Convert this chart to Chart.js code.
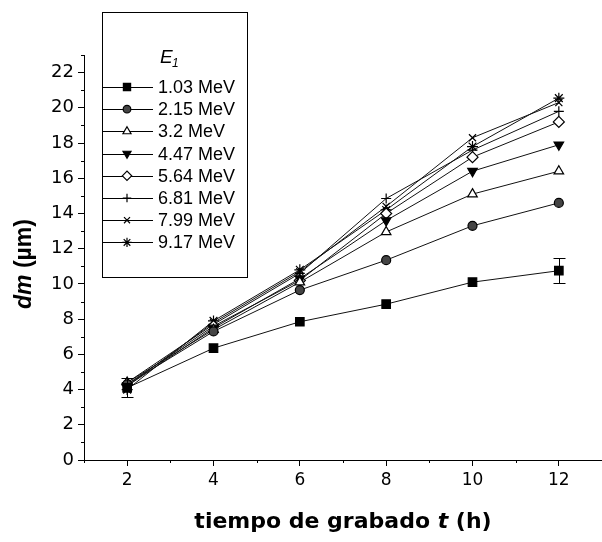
<!DOCTYPE html>
<html>
<head>
<meta charset="utf-8">
<script src="https://cdn.jsdelivr.net/npm/chart.js@4.4.1/dist/chart.umd.min.js"></script>
<style>
  html, body { margin: 0; padding: 0; background: #fff; }
  #wrap { width: 602px; height: 542px; }
</style>
</head>
<body>
<div id="wrap"><canvas id="c" width="602" height="542"></canvas></div>
<script>
// Etching time (h)
const hours = [2, 4, 6, 8, 10, 12];

// Incident energy of each series
const energies = ['1.03 MeV', '2.15 MeV', '3.2 MeV', '4.47 MeV', '5.64 MeV', '6.81 MeV', '7.99 MeV', '9.17 MeV'];

// Track diameter dm (µm) per energy
const dm103 = [4.1, 6.35, 7.85, 8.85, 10.1, 10.75];
const dm215 = [4.3, 7.3, 9.65, 11.35, 13.3, 14.6];
const dm320 = [4.4, 7.4, 10.1, 12.95, 15.1, 16.4];
const dm447 = [4.2, 7.5, 10.3, 13.6, 16.4, 17.9];
const dm564 = [4.3, 7.6, 10.2, 14.0, 17.2, 19.2];
const dm681 = [4.4, 7.7, 10.6, 14.85, 17.6, 19.8];
const dm799 = [4.2, 7.8, 10.7, 14.4, 18.3, 20.3];
const dm917 = [4.0, 7.9, 10.8, 14.2, 17.8, 20.55];

// Uncertainty on the 1.03 MeV series
const err103 = [0.55, 0, 0, 0, 0, 0.7];

// Axis tick values
const xTickLabels = [2, 4, 6, 8, 10, 12];
const yTickLabels = [0, 2, 4, 6, 8, 10, 12, 14, 16, 18, 20, 22];

const seriesValues = [dm103, dm215, dm320, dm447, dm564, dm681, dm799, dm917];
const markers = [
  { style: 'rect',     rot: 0,   r: 6,   fill: '#000' },
  { style: 'circle',   rot: 0,   r: 4.5, fill: '#444' },
  { style: 'triangle', rot: 0,   r: 5.5, fill: '#fff' },
  { style: 'triangle', rot: 180, r: 5.5, fill: '#000' },
  { style: 'rectRot',  rot: 0,   r: 5.5, fill: '#fff' },
  { style: 'cross',    rot: 0,   r: 5,   fill: '#fff' },
  { style: 'crossRot', rot: 0,   r: 5,   fill: '#fff' },
  { style: 'star',     rot: 0,   r: 5.5, fill: '#fff' }
];

const datasets = seriesValues.map((vals, k) => ({
  label: energies[k],
  data: vals.map((v, i) => ({ x: hours[i], y: v })),
  borderColor: '#111',
  borderWidth: 1,
  pointStyle: markers[k].style,
  rotation: markers[k].rot,
  pointRadius: markers[k].r,
  pointBackgroundColor: markers[k].fill,
  pointBorderColor: '#000',
  pointBorderWidth: 1.2,
  tension: 0
}));

const TICK_FONT = { family: 'DejaVu Sans', size: 17 };

// Short minor ticks on odd values, error bars, axis titles and the legend box
const decor = {
  id: 'decor',
  afterDatasetsDraw(chart) {
    const ctx = chart.ctx;
    const xs = chart.scales.x, ys = chart.scales.y;
    ctx.save();
    ctx.strokeStyle = '#000';
    ctx.lineWidth = 1;
    // error bars
    err103.forEach((e, i) => {
      if (!e) return;
      const px = Math.round(xs.getPixelForValue(hours[i])) + 0.5;
      const y1 = ys.getPixelForValue(dm103[i] - e);
      const y2 = ys.getPixelForValue(dm103[i] + e);
      ctx.beginPath();
      ctx.moveTo(px, y1); ctx.lineTo(px, y2);
      ctx.moveTo(px - 6, Math.round(y1) + 0.5); ctx.lineTo(px + 6, Math.round(y1) + 0.5);
      ctx.moveTo(px - 6, Math.round(y2) + 0.5); ctx.lineTo(px + 6, Math.round(y2) + 0.5);
      ctx.stroke();
    });
    ctx.restore();
  },
  afterDraw(chart) {
    const ctx = chart.ctx;
    const xs = chart.scales.x, ys = chart.scales.y;
    const area = chart.chartArea;
    ctx.save();
    ctx.strokeStyle = '#000';
    ctx.lineWidth = 1;
    // minor ticks, and the x axis running a little past the y axis
    ctx.beginPath();
    for (let v = Math.ceil(xs.min); v <= xs.max; v++) {
      if (v % 2 === 0) continue;
      const px = Math.round(xs.getPixelForValue(v)) + 0.5;
      ctx.moveTo(px, area.bottom); ctx.lineTo(px, area.bottom + 3);
    }
    for (let v = Math.ceil(ys.min); v <= ys.max; v++) {
      if (v % 2 === 0) continue;
      const py = Math.round(ys.getPixelForValue(v)) + 0.5;
      ctx.moveTo(area.left, py); ctx.lineTo(area.left - 3, py);
    }
    ctx.moveTo(area.left - 5, Math.round(area.bottom) + 0.5);
    ctx.lineTo(area.left, Math.round(area.bottom) + 0.5);
    ctx.stroke();

    // axis titles
    ctx.fillStyle = '#000';
    ctx.textBaseline = 'middle';
    // y title: "dm (µm)" with italic dm
    ctx.save();
    ctx.translate(25, 264);
    ctx.rotate(-Math.PI / 2);
    const f1 = 'italic bold 23px "Liberation Sans"';
    const f2 = 'bold 23px "Liberation Sans"';
    ctx.font = f1; const w1 = ctx.measureText('dm').width;
    ctx.font = f2; const w2 = ctx.measureText(' (µm)').width;
    let sx = -(w1 + w2) / 2;
    ctx.textAlign = 'left';
    ctx.font = f1; ctx.fillText('dm', sx, 0);
    ctx.font = f2; ctx.fillText(' (µm)', sx + w1, 0);
    ctx.restore();

    // x title: "tiempo de grabado t (h)" with italic t
    const g1 = 'bold 22px "DejaVu Sans"';
    const g2 = 'italic bold 22px "DejaVu Sans"';
    const parts = [['tiempo de grabado ', g1], ['t', g2], [' (h)', g1]];
    let tot = 0;
    parts.forEach(p => { ctx.font = p[1]; p.push(ctx.measureText(p[0]).width); tot += p[2]; });
    let cx = 343 - tot / 2;
    ctx.textAlign = 'left';
    parts.forEach(p => { ctx.font = p[1]; ctx.fillText(p[0], cx, 522); cx += p[2]; });

    // legend box
    const bx = 102, by = 12, bw = 145, bh = 265;
    ctx.fillStyle = '#fff';
    ctx.fillRect(bx, by, bw, bh);
    ctx.strokeRect(bx + 0.5, by + 0.5, bw, bh);
    ctx.fillStyle = '#000';
    ctx.font = 'italic 19px "Liberation Sans"';
    ctx.textAlign = 'left';
    ctx.fillText('E', 160, 58);
    ctx.font = 'italic 12px "Liberation Sans"';
    ctx.fillText('1', 172, 64);
    const rowTop = 87, rowGap = 22.2;
    chart.data.datasets.forEach((ds, k) => {
      const ry = rowTop + k * rowGap;
      ctx.strokeStyle = '#000';
      ctx.lineWidth = 1;
      ctx.beginPath();
      ctx.moveTo(bx, Math.round(ry) + 0.5);
      ctx.lineTo(bx + 51, Math.round(ry) + 0.5);
      ctx.stroke();
      ctx.fillStyle = ds.pointBackgroundColor;
      ctx.strokeStyle = ds.pointBorderColor;
      ctx.lineWidth = ds.pointBorderWidth;
      Chart.helpers.drawPoint(ctx, {
        pointStyle: ds.pointStyle, rotation: ds.rotation,
        radius: ds.pointRadius * 0.85, borderWidth: ds.pointBorderWidth
      }, bx + 25, ry);
      ctx.fillStyle = '#000';
      ctx.font = '18px "Liberation Sans"';
      ctx.fillText(ds.label, bx + 56, ry + 1);
    });
    ctx.restore();
  }
};

new Chart(document.getElementById('c'), {
  type: 'line',
  data: { datasets },
  options: {
    responsive: false,
    animation: false,
    devicePixelRatio: 1,
    layout: { autoPadding: false, padding: { top: 55, right: 0, left: 0, bottom: 0 } },
    plugins: { legend: { display: false }, tooltip: { enabled: false } },
    scales: {
      x: {
        type: 'linear', min: 1, max: 13,
        afterFit: s => { s.height = 82; s.paddingLeft = 0; s.paddingRight = 0; },
        afterBuildTicks: s => { s.ticks = []; for (let v = 1; v <= 13; v++) s.ticks.push({ value: v }); },
        ticks: {
          color: '#000', font: TICK_FONT, padding: 4, maxRotation: 0, autoSkip: false,
          callback: v => (xTickLabels.includes(v) ? String(v) : '')
        },
        grid: {
          drawOnChartArea: false, drawTicks: true, tickLength: 6,
          color: c => (c.tick && xTickLabels.includes(c.tick.value) ? '#000' : 'rgba(0,0,0,0)')
        },
        border: { display: true, color: '#000', width: 1 }
      },
      y: {
        min: 0, max: 23,
        afterFit: s => { s.width = 84; s.paddingTop = 0; s.paddingBottom = 0; },
        afterBuildTicks: s => { s.ticks = []; for (let v = 0; v <= 23; v++) s.ticks.push({ value: v }); },
        ticks: {
          color: '#000', font: { family: 'DejaVu Sans', size: 18 }, padding: 4, autoSkip: false,
          callback: v => (yTickLabels.includes(v) ? String(v) : '')
        },
        grid: {
          drawOnChartArea: false, drawTicks: true, tickLength: 6,
          color: c => (c.tick && yTickLabels.includes(c.tick.value) ? '#000' : 'rgba(0,0,0,0)')
        },
        border: { display: true, color: '#000', width: 1 }
      }
    }
  },
  plugins: [decor]
});
</script>
</body>
</html>
